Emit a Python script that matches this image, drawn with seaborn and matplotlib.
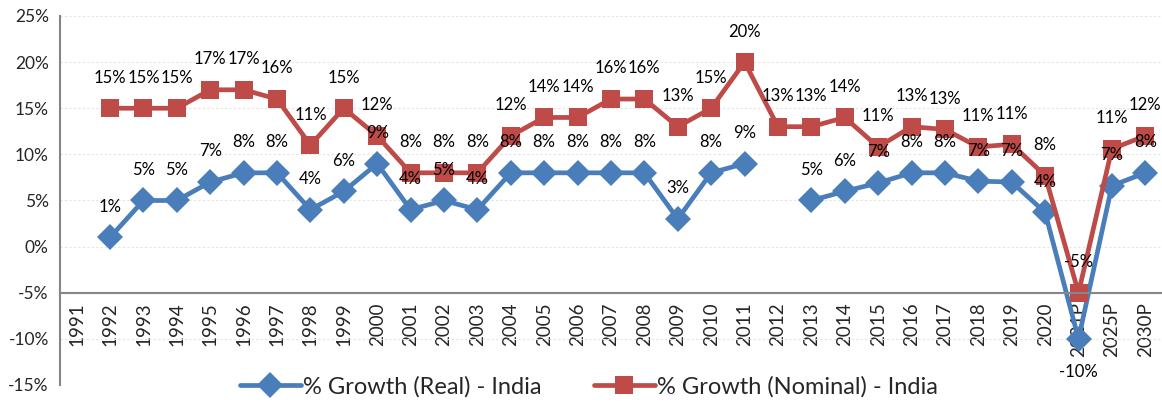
import numpy as np
import pandas as pd
import matplotlib
matplotlib.use("Agg")
import matplotlib.pyplot as plt
import seaborn as sns
from matplotlib.lines import Line2D

# Chart data
years = [str(y) for y in range(1991, 2021)] + ["2021P", "2025P", "2030P"]
real = [np.nan, 1, 5, 5, 7, 8, 8, 4, 6, 9,
        4, 5, 4, 8, 8, 8, 8, 8, 3, 8,
        9, np.nan, 5, 6, 6.9, 8, 8, 7.1, 7, 3.7,
        -10, 6.6, 8]
nominal = [np.nan, 15, 15, 15, 17, 17, 16, 11, 15, 12,
           8, 8, 8, 12, 14, 14, 16, 16, 13, 15,
           20, 13, 13, 14, 10.8, 13, 12.7, 10.8, 11.1, 7.7,
           -5, 10.6, 12]
real_name = "% Growth (Real) - India"
nom_name = "% Growth (Nominal) - India"

blue = "#4a7ebb"
red = "#be4b48"

# build long table, split the real series where data is missing
rows = []
for name, vals in [(real_name, real), (nom_name, nominal)]:
    seg = 0
    for i, v in enumerate(vals):
        if np.isnan(v):
            seg += 1
            continue
        rows.append({"pos": i, "value": v, "series": name, "seg": f"{name}-{seg}"})
df = pd.DataFrame(rows)

sns.set_style("white")
plt.rcParams["font.family"] = ["Lato", "DejaVu Sans"]

fig = plt.figure(figsize=(11.62, 4.05), dpi=100)
ax = fig.add_axes([0.0516, 0.0494, 0.9484, 0.9111])

sns.lineplot(data=df, x="pos", y="value", hue="series", style="series",
             units="seg", estimator=None, sort=True,
             palette={real_name: blue, nom_name: red},
             markers={real_name: "D", nom_name: "s"}, dashes=False,
             linewidth=3.4, markersize=13, markeredgewidth=0,
             legend=False, ax=ax)

# data labels
for name, vals in [(real_name, real), (nom_name, nominal)]:
    for i, v in enumerate(vals):
        if np.isnan(v):
            continue
        dy = -24 if v <= -8 else 22
        ax.annotate(f"{round(v):.0f}%", (i, v), textcoords="offset points",
                    xytext=(0, dy), ha="center", va="center",
                    fontsize=12, color="black")

# spines first: moving a spine resets the ticks
for s in ["top", "right"]:
    ax.spines[s].set_visible(False)
ax.spines["left"].set_color("#868686")
ax.spines["left"].set_linewidth(1.5)
ax.spines["bottom"].set_position(("data", -5))
ax.spines["bottom"].set_color("#868686")
ax.spines["bottom"].set_linewidth(1.5)

ax.set_xlim(-0.5, len(years) - 0.5)
ax.set_ylim(-15, 25)
ax.set_yticks(np.arange(-15, 26, 5))
ax.set_yticklabels([f"{t}%" for t in range(-15, 26, 5)], fontsize=12.5)
ax.set_xticks(range(len(years)))
ax.set_xticklabels(years, rotation=90, fontsize=13.5)
ax.set_xticks(np.arange(-0.5, len(years), 1), minor=True)
ax.tick_params(axis="x", which="major", length=0, pad=7)
ax.tick_params(axis="x", which="minor", length=5, color="#868686", width=1.3)
ax.tick_params(axis="y", length=5, color="#868686", width=1.3, pad=3)
ax.set_xlabel("")
ax.set_ylabel("")

ax.yaxis.grid(True, color="#e4e4e4", linestyle=(0, (2, 2)), linewidth=0.8)
ax.set_axisbelow(True)

handles = [
    Line2D([], [], color=blue, marker="D", lw=3.4, markersize=13, markeredgewidth=0),
    Line2D([], [], color=red, marker="s", lw=3.4, markersize=13, markeredgewidth=0),
]
ax.legend(handles, [real_name, nom_name], loc="center", bbox_to_anchor=(0.48, -0.005),
          ncol=2, frameon=False, fontsize=17, handlelength=2.6,
          handletextpad=0.1, columnspacing=2.2)

fig.savefig("out.png", dpi=100)
